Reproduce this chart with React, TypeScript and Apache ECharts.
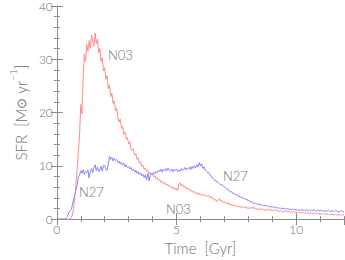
import React, { useEffect, useRef } from "react";
import * as echarts from "echarts";

const timeStart = 0;
const timeStep = 0.05;

// N03 star formation rate (Msun/yr), sampled every 0.05 Gyr from 0 to 12 Gyr
const n03Values = [
  0, 0, 0, 0, 0, 0, 0, 0, 0, 0, 0, 0, 0.2, 0.8, 2.0, 4.0, 6.5, 9.5, 12.5, 15.8,
  21.5, 19.8, 26.5, 31.0, 29.5, 32.8, 31.5, 33.5, 32.0, 34.6, 33.2, 32.4, 34.9, 33.0, 33.8, 31.2, 32.0, 29.6, 30.3, 27.8,
  28.4, 26.2, 26.9, 24.5, 25.2, 23.0, 23.6, 21.7, 22.2, 20.3, 20.8, 19.0, 18.2, 18.8, 17.0, 17.4, 15.9, 16.3, 15.0, 15.3,
  14.1, 14.5, 13.2, 12.9, 13.2, 12.0, 12.3, 11.2, 11.5, 10.5, 10.8, 9.9, 10.1, 9.3, 9.6, 9.0, 9.2, 8.5, 8.8, 8.3,
  8.6, 7.9, 8.1, 7.5, 7.8, 7.2, 7.4, 6.9, 7.1, 6.7, 6.9, 6.4, 6.6, 6.2, 6.4, 5.9, 6.1, 5.7, 6.0, 5.5,
  5.8, 5.3, 6.5, 6.8, 6.2, 6.5, 6.0, 6.2, 5.7, 5.9, 5.5, 5.7, 5.2, 5.4, 5.0, 5.2, 4.8, 5.0, 4.6, 4.9,
  4.5, 4.7, 4.4, 4.6, 4.3, 4.5, 4.2, 4.4, 4.0, 4.2, 3.8, 3.9, 3.5, 3.7, 3.3, 3.6, 3.9, 3.3, 3.5, 3.1,
  3.3, 2.9, 3.1, 2.8, 3.0, 2.6, 2.8, 2.5, 2.7, 2.4, 2.6, 2.3, 2.5, 2.2, 2.4, 2.1, 2.3, 2.1, 2.4, 2.0,
  2.2, 1.9, 2.2, 2.0, 2.3, 1.9, 2.1, 1.8, 2.0, 1.7, 1.9, 2.0, 1.7, 1.9, 1.6, 1.8, 1.7, 1.9, 1.6, 1.8,
  1.5, 1.7, 1.6, 1.8, 1.5, 1.6, 1.4, 1.6, 1.5, 1.3, 1.5, 1.4, 1.6, 1.3, 1.5, 1.3, 1.4, 1.2, 1.4, 1.3,
  1.2, 1.4, 1.2, 1.3, 1.1, 1.3, 1.2, 1.1, 1.3, 1.1, 1.2, 1.0, 1.2, 1.1, 1.0, 1.2, 1.0, 1.1, 0.9, 1.1,
  1.0, 0.9, 1.1, 0.9, 1.0, 0.8, 1.0, 0.9, 0.8, 1.0, 0.8, 0.9, 0.8, 0.9, 0.7, 0.9, 0.8, 0.7, 0.9, 0.7,
  0.8,
];

// N27 star formation rate (Msun/yr), same sampling
const n27Values = [
  0, 0, 0, 0, 0, 0, 0, 0, 0.3, 0.5, 1.2, 1.6, 1.8, 2.6, 3.8, 4.6, 5.5, 6.4, 7.8, 8.3,
  9.1, 8.6, 9.3, 8.4, 8.9, 8.7, 9.2, 7.7, 9.0, 9.5, 8.7, 9.6, 10.2, 9.1, 9.8, 8.9, 9.3, 9.9, 9.0, 10.1,
  10.0, 9.4, 9.1, 10.3, 11.8, 11.2, 11.6, 10.9, 11.4, 11.0, 11.2, 10.6, 10.9, 10.3, 10.7, 10.1, 10.5, 9.8, 10.2, 9.7,
  9.9, 9.4, 9.7, 9.1, 9.4, 8.8, 9.2, 8.6, 8.9, 8.3, 8.7, 8.1, 8.4, 7.8, 8.3, 7.4, 8.6, 7.2, 8.2, 8.5,
  8.3, 8.8, 8.5, 9.0, 8.7, 9.2, 8.9, 9.4, 8.8, 9.3, 9.0, 9.5, 9.1, 9.6, 9.2, 9.0, 9.4, 8.9, 9.3, 9.1,
  9.4, 8.9, 9.2, 9.0, 9.5, 9.1, 9.3, 9.7, 9.2, 9.6, 9.4, 9.8, 9.3, 9.9, 9.5, 10.0, 9.6, 10.2, 9.8, 10.6,
  10.0, 10.4, 9.5, 9.8, 9.2, 9.0, 8.7, 8.8, 8.3, 8.1, 7.7, 7.6, 7.2, 7.3, 6.9, 6.8, 6.6, 6.4, 6.5, 6.2,
  6.1, 5.8, 5.6, 5.7, 5.3, 5.1, 5.2, 4.8, 4.9, 4.6, 4.5, 4.6, 4.2, 4.3, 4.0, 4.1, 3.8, 3.9, 3.6, 3.7,
  3.4, 3.5, 3.2, 3.3, 3.0, 2.9, 3.0, 2.8, 2.9, 2.7, 2.8, 2.6, 2.7, 2.5, 2.6, 2.4, 2.5, 2.3, 2.4, 2.3,
  2.3, 2.2, 2.3, 2.1, 2.2, 2.0, 2.1, 2.0, 2.1, 1.9, 2.0, 1.9, 1.9, 2.0, 1.8, 1.9, 1.8, 1.9, 1.7, 1.8,
  1.8, 1.7, 1.8, 1.6, 1.7, 1.8, 1.6, 1.7, 1.6, 1.8, 1.6, 1.7, 1.5, 1.7, 1.6, 1.8, 1.6, 1.5, 1.7, 1.6,
  1.5, 1.7, 1.5, 1.6, 1.4, 1.6, 1.5, 1.7, 1.5, 1.4, 1.6, 1.5, 1.4, 1.6, 1.5, 1.3, 1.5, 1.4, 1.6, 1.4,
  1.4,
];

const seriesNames = ["N03", "N27"];
const xTickLabels = ["0", "5", "10"];
const yTickLabels = ["0", "10", "20", "30", "40"];

const TEXT = "#6e6e6e";
const AXIS = "#8a8a8a";
const FONT = "Lato, 'DejaVu Sans', sans-serif";
const WEIGHT = 300;

function toPairs(vals: number[]) {
  return vals.map((v, i) => [+(timeStart + i * timeStep).toFixed(2), v]);
}

function xAxisDef(position: "top" | "bottom", major: boolean, labels: boolean) {
  return {
    type: "value",
    position,
    min: 0,
    max: 12,
    interval: major ? 5 : 1,
    axisLine: { show: major, lineStyle: { color: AXIS, width: 1 } },
    axisTick: { show: true, inside: true, length: major ? 6 : 3, lineStyle: { color: AXIS } },
    splitLine: { show: false },
    axisLabel: {
      show: labels,
      margin: 4,
      color: TEXT,
      fontFamily: FONT,
      fontWeight: WEIGHT,
      fontSize: 12,
      showMaxLabel: false,
      formatter: (v: number) => (xTickLabels.includes(String(v)) ? String(v) : ""),
    },
    ...(labels
      ? {
          name: "Time  [Gyr]",
          nameLocation: "middle",
          nameGap: 17,
          nameTextStyle: { color: TEXT, fontFamily: FONT, fontWeight: WEIGHT, fontSize: 15 },
        }
      : {}),
  };
}

function yAxisDef(position: "left" | "right", major: boolean, labels: boolean) {
  return {
    type: "value",
    position,
    min: 0,
    max: 40,
    interval: major ? 10 : 2,
    axisLine: { show: major, lineStyle: { color: AXIS, width: 1 } },
    axisTick: { show: true, inside: true, length: major ? 6 : 3, lineStyle: { color: AXIS } },
    splitLine: { show: false },
    axisLabel: {
      show: labels,
      margin: 4,
      color: TEXT,
      fontFamily: FONT,
      fontWeight: WEIGHT,
      fontSize: 12,
      formatter: (v: number) => (yTickLabels.includes(String(v)) ? String(v) : ""),
    },
    ...(labels
      ? {
          name: "{n|SFR  [M}{s|⊙}{n| yr}{p|−1}{n|]}",
          nameLocation: "middle",
          nameRotate: 90,
          nameGap: 26,
          nameTextStyle: {
            color: TEXT,
            fontFamily: FONT,
            fontSize: 15,
            rich: {
              n: { fontSize: 15, color: TEXT, fontFamily: FONT, fontWeight: WEIGHT, lineHeight: 20, verticalAlign: "bottom" },
              s: { fontSize: 13, color: TEXT, fontFamily: "'DejaVu Sans'", fontWeight: WEIGHT, lineHeight: 20, verticalAlign: "bottom" },
              p: { fontSize: 10, color: TEXT, fontFamily: FONT, fontWeight: WEIGHT, lineHeight: 20, verticalAlign: "top" },
            },
          },
        }
      : {}),
  };
}

export default function App() {
  const ref = useRef<HTMLDivElement>(null);
  useEffect(() => {
    if (!ref.current) return;
    const chart = echarts.init(ref.current, null, { renderer: "svg" });
    const labelStyle = { fill: TEXT, fontFamily: FONT, fontWeight: WEIGHT, fontSize: 13, verticalAlign: "middle" };
    chart.setOption({
      animation: false,
      backgroundColor: "#ffffff",
      grid: { left: 49, right: 1, top: 4, bottom: 37, containLabel: false },
      xAxis: [
        xAxisDef("bottom", true, true),
        xAxisDef("bottom", false, false),
        xAxisDef("top", true, false),
        xAxisDef("top", false, false),
      ],
      yAxis: [
        yAxisDef("left", true, true),
        yAxisDef("left", false, false),
        yAxisDef("right", true, false),
        yAxisDef("right", false, false),
      ],
      series: [
        {
          name: seriesNames[0],
          type: "line",
          xAxisIndex: 0,
          yAxisIndex: 0,
          data: toPairs(n03Values),
          showSymbol: false,
          symbol: "none",
          lineStyle: { color: "#ff8a8a", width: 1 },
          itemStyle: { color: "#ff8a8a" },
        },
        {
          name: seriesNames[1],
          type: "line",
          xAxisIndex: 0,
          yAxisIndex: 0,
          data: toPairs(n27Values),
          showSymbol: false,
          symbol: "none",
          lineStyle: { color: "#8585ff", width: 1 },
          itemStyle: { color: "#8585ff" },
        },
      ],
      graphic: [
        { type: "text", x: 108, y: 55, style: { ...labelStyle, text: seriesNames[0] } },
        { type: "text", x: 79, y: 192, style: { ...labelStyle, text: seriesNames[1] } },
        { type: "text", x: 223, y: 176, style: { ...labelStyle, text: seriesNames[1] } },
        { type: "text", x: 166, y: 209, style: { ...labelStyle, text: seriesNames[0] } },
      ],
    });
    return () => chart.dispose();
  }, []);
  return (
    <div
      ref={ref}
      style={{ position: "fixed", left: 0, top: 0, width: 345, height: 260 }}
    />
  );
}
